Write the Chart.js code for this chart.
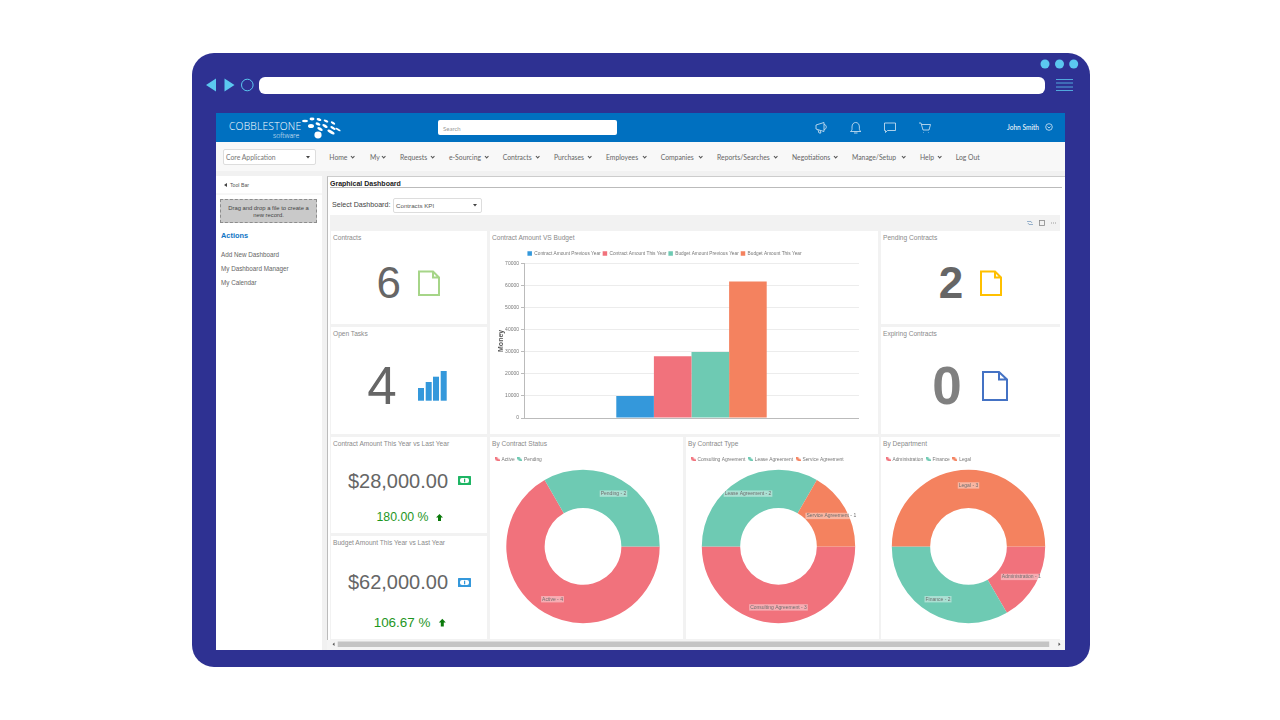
<!DOCTYPE html>
<html><head><meta charset="utf-8">
<script src="https://cdn.jsdelivr.net/npm/chart.js@4"></script>
<style>
html,body{margin:0;padding:0;background:#fff;width:1280px;height:720px;overflow:hidden;font-family:"Liberation Sans",Arial,sans-serif}
#root{position:absolute;left:0;top:0;width:1280px;height:720px;background:#fff;filter:blur(.4px)}
.a{position:absolute;white-space:nowrap}
.m{transform:translateY(-50%)}
.c{transform:translate(-50%,-50%)}
.card{position:absolute;background:#fff}
.title{position:absolute;left:2px;top:2px;font-size:6.6px;line-height:9px;color:#8a8a8a;white-space:nowrap}
.menu{font-family:Lato,"Noto Sans",sans-serif;font-size:6.8px;color:#666}
canvas{position:absolute}
svg{position:absolute;left:0;top:0}
</style></head><body><div id="root">
<div class="a" style="left:192px;top:53px;width:898px;height:614px;border-radius:22px;background:#2e3192"></div>
<div class="a" style="left:259px;top:76.500px;width:786px;height:17px;border-radius:6px;background:#fff"></div>
<div id="app" class="a" style="left:216px;top:113px;width:849px;height:537px;background:#f1f1f1;overflow:hidden">
  <div class="a" style="left:0;top:0;width:849px;height:29px;background:#0070c0"></div>
  <div class="a" style="left:0;top:29px;width:849px;height:29px;background:#f8f8f8"></div>
  <div class="a" style="left:0;top:63px;width:106px;height:474px;background:#fff"></div>
  <div class="a" style="left:111px;top:63px;width:738px;height:474px;background:#fff;border-left:1px solid #bbb;border-top:1px solid #ccc;box-sizing:border-box"></div>
  <div class="a" style="left:114px;top:102px;width:730px;height:425px;background:#f2f2f2"></div>
</div>
<!-- header text -->
<div class="a m" style="left:229px;top:125.700px;font-family:'Open Sans',sans-serif;font-weight:300;font-size:10.300px;line-height:10px;letter-spacing:.2px;color:#fff">COBBLESTONE</div>
<div class="a m" style="left:273px;top:135px;font-family:'Open Sans',sans-serif;font-weight:300;font-size:6.800px;line-height:7px;color:#e6f0fa">software</div>
<div class="a" style="left:438px;top:120px;width:179px;height:15px;background:#fff;border-radius:2px"></div>
<div class="a m menu" style="left:443px;top:127.500px;font-size:6px;color:#999">Search</div>
<div class="a m menu" style="left:1007px;top:127px;font-size:6.600px;color:#fff">John Smith</div>
<!-- nav -->
<div class="a" style="left:223px;top:149px;width:93px;height:16px;background:#fff;border:1px solid #ddd;border-radius:2px;box-sizing:border-box"></div>
<div class="a m menu" style="left:226px;top:157px;color:#777">Core Application</div>
<div id="menuHost"></div>
<!-- sidebar -->
<div class="a m" style="left:230px;top:185px;font-size:5.200px;color:#555">Tool Bar</div>
<div class="a" style="left:220px;top:199px;width:97px;height:24px;background:#c9c9c9;border:1px dashed #8c8c8c;box-sizing:border-box"></div>
<div class="a c" style="left:268.500px;top:207.500px;font-size:5.850px;color:#444">Drag and drop a file to create a</div>
<div class="a c" style="left:268.500px;top:214.500px;font-size:5.850px;color:#444">new record.</div>
<div class="a m" style="left:221px;top:235px;font-size:7.400px;font-weight:bold;color:#0f75c4">Actions</div>
<div class="a m" style="left:221px;top:254px;font-size:6.300px;color:#666">Add New Dashboard</div>
<div class="a m" style="left:221px;top:267.500px;font-size:6.300px;color:#666">My Dashboard Manager</div>
<div class="a m" style="left:221px;top:281.500px;font-size:6.300px;color:#666">My Calendar</div>
<!-- panel -->
<div class="a m" style="left:330px;top:182.500px;font-size:7px;font-weight:bold;color:#222">Graphical Dashboard</div>
<div class="a" style="left:330px;top:187px;width:732px;height:1px;background:#bbb"></div>
<div class="a m" style="left:332px;top:204.500px;font-size:7.100px;color:#444">Select Dashboard:</div>
<div class="a" style="left:393px;top:197.500px;width:89px;height:15px;background:#fff;border:1px solid #ddd;border-radius:2px;box-sizing:border-box"></div>
<div class="a m" style="left:396px;top:205px;font-size:6.200px;color:#555">Contracts KPI</div>
<!-- cards -->
<div class="card" style="left:331px;top:231px;width:156px;height:93px"><div class="title">Contracts</div></div>
<div class="card" style="left:331px;top:327px;width:156px;height:107px"><div class="title">Open Tasks</div></div>
<div class="card" style="left:331px;top:437px;width:156px;height:96px"><div class="title">Contract Amount This Year vs Last Year</div></div>
<div class="card" style="left:331px;top:536px;width:156px;height:103px"><div class="title">Budget Amount This Year vs Last Year</div></div>
<div class="card" style="left:490px;top:231px;width:388px;height:203px"><div class="title">Contract Amount VS Budget</div></div>
<div class="card" style="left:881px;top:231px;width:179px;height:93px"><div class="title">Pending Contracts</div></div>
<div class="card" style="left:881px;top:327px;width:179px;height:107px"><div class="title">Expiring Contracts</div></div>
<div class="card" style="left:490px;top:437px;width:193px;height:202px"><div class="title">By Contract Status</div></div>
<div class="card" style="left:686px;top:437px;width:193px;height:202px"><div class="title">By Contract Type</div></div>
<div class="card" style="left:881px;top:437px;width:179px;height:202px"><div class="title">By Department</div></div>
<!-- KPI values -->
<div class="a c" style="left:388.700px;top:283px;font-size:44px;line-height:44px;color:#666">6</div>
<div class="a c" style="left:382px;top:384.500px;font-size:53px;line-height:53px;color:#666">4</div>
<div class="a c" style="left:951px;top:283px;font-size:44px;line-height:44px;font-weight:bold;color:#666">2</div>
<div class="a c" style="left:947px;top:384.500px;font-size:53px;line-height:53px;font-weight:bold;color:#808080">0</div>
<div class="a c" style="left:398px;top:481px;font-size:20px;color:#666">$28,000.00</div>
<div class="a c" style="left:398px;top:582px;font-size:20px;color:#666">$62,000.00</div>
<div class="a c" style="left:402.500px;top:517px;font-size:12.300px;color:#1e961e">180.00 %</div>
<div class="a c" style="left:402px;top:622px;font-size:13.400px;color:#1e961e">106.67 %</div>
<!-- canvases -->
<canvas id="barChart" width="389" height="177" style="left:470px;top:249px;width:389px;height:177px"></canvas>
<canvas id="statusChart" width="182" height="175" style="left:492px;top:454px;width:182px;height:175px"></canvas>
<canvas id="typeChart" width="181" height="175" style="left:688px;top:454px;width:181px;height:175px"></canvas>
<canvas id="deptChart" width="171" height="175" style="left:883px;top:454px;width:171px;height:175px"></canvas>
<!-- vector chrome and icons -->
<svg width="1280" height="720" fill="none">
  <g fill="#5bc8f0"><path d="M206 85l10-6.500v13zM234.500 85l-10-6.500v13z"/><circle cx="1045" cy="64" r="4.500"/><circle cx="1059.500" cy="64" r="4.500"/><circle cx="1073.700" cy="64" r="4.500"/></g>
  <circle cx="247.300" cy="85" r="5.800" stroke="#5bc8f0" stroke-width="1"/>
  <path d="M1056 79.500h17M1056 83h17M1056 87h17M1056 90.500h17" stroke="#5bc8f0" stroke-width=".8"/>
  <g fill="#fff">
    <ellipse cx="305" cy="121" rx="3" ry="1.200"/><ellipse cx="312" cy="119" rx="2.500" ry="1.400"/><ellipse cx="319" cy="119.500" rx="2.500" ry="1.300" transform="rotate(20 319 119.500)"/><ellipse cx="326" cy="121" rx="2.500" ry="1.200" transform="rotate(25 326 121)"/><ellipse cx="333" cy="123" rx="2.500" ry="1.100" transform="rotate(30 333 123)"/>
    <ellipse cx="311" cy="126" rx="3" ry="2"/><ellipse cx="318" cy="124" rx="2.600" ry="1.500" transform="rotate(25 318 124)"/><ellipse cx="325" cy="126" rx="3" ry="1.300" transform="rotate(30 325 126)"/><ellipse cx="333" cy="128" rx="3" ry="1.200" transform="rotate(30 333 128)"/><ellipse cx="338" cy="129.500" rx="3" ry="1" transform="rotate(30 338 129.500)"/>
    <ellipse cx="320" cy="129" rx="3" ry="1.500" transform="rotate(30 320 129)"/><ellipse cx="331" cy="132" rx="4" ry="1.500" transform="rotate(30 331 132)"/><ellipse cx="318" cy="135" rx="3.600" ry="3.400"/>
  </g>
  <g stroke="#d8e8f5" stroke-width=".8">
    <path d="M816 125l8-2.500v9l-8-2.500zM824 124.500c3 0 3 5 0 5M818 130l1 3h2l-1-2.500"/>
    <path d="M850.500 131.500c2-1 1.500-3 1.500-4.500 0-3 1.700-4.500 3.700-4.500s3.700 1.500 3.700 4.500c0 1.500-.5 3.500 1.500 4.500zM854 133h3.500"/>
    <path d="M884.500 123h11v7.500h-8l-2 2v-2h-1z"/>
    <path d="M919 123h2l2 7h6l1.500-5.500h-9M923.500 132.500v.5M928.500 132.500v.5"/>
    <circle cx="1049" cy="127" r="3.300"/><path d="M1047.500 126.500l1.500 1.500 1.500-1.500"/>
  </g>
  <g fill="#444"><path d="M306 156h4l-2 2.500zM473 204h4l-2 2.500z"/><path d="M224 185l3-2v4z"/></g>
  <path d="M216 194h106" stroke="#eee"/>
  <g stroke="#7f9fc0" stroke-width=".8"><path d="M1027 221.500h4l1 1.500M1033 224.500h-4l-1-1.500"/></g>
  <rect x="1039.500" y="220.500" width="5" height="5" stroke="#888" stroke-width=".8"/>
  <path d="M1051 223h1M1053 223h1M1055 223h1" stroke="#888" stroke-width=".8"/>
  <path d="M419 271.500h14l6 6v17.500h-20zM433 271.500v6h6" stroke="#a6d588" stroke-width="2"/>
  <path d="M981 271.500h14l6 6v17.500h-20zM995 271.500v6h6" stroke="#ffc000" stroke-width="2"/>
  <path d="M983 372h16l8 7.500v20.500h-24zM999 372v7.500h8" stroke="#4472c4" stroke-width="2"/>
  <g fill="#3498db"><rect x="418" y="388" width="6" height="12.700"/><rect x="425.700" y="382" width="6" height="18.700"/><rect x="433" y="376.700" width="6" height="24"/><rect x="440.700" y="371" width="6" height="29.700"/></g>
  <rect x="458" y="476" width="13" height="9" rx=".5" fill="#1eb564"/><rect x="460" y="478" width="9" height="5" rx="2" fill="#fff"/><rect x="464" y="478.700" width="1.200" height="3.600" fill="#1eb564"/>
  <rect x="458" y="578" width="13" height="9" rx=".5" fill="#3498db"/><rect x="460" y="580" width="9" height="5" rx="2" fill="#fff"/><rect x="464" y="580.700" width="1.200" height="3.600" fill="#3498db"/>
  <path d="M439.500 514l3.500 3.500h-2v3.500h-3v-3.500h-2z" fill="#0b7a0b"/>
  <path d="M442.300 618.700l3.500 3.800h-2v4h-3v-4h-2z" fill="#0b7a0b"/>
  <rect x="327" y="640" width="738" height="10" fill="#f4f4f4"/>
  <rect x="337.700" y="641.500" width="711.500" height="5.500" fill="#c4c4c4"/>
  <path d="M334.500 642.500l-2 1.700 2 1.700zM1058.500 642.500l2 1.700-2 1.700z" fill="#555"/>
</svg>
</div>
<script>
// ---- bar chart data
const barCategories = [''];
const barSeriesNames = ['Contract Amount Previous Year','Contract Amount This Year','Budget Amount Previous Year','Budget Amount This Year'];
const contractPrev = [10000];
const contractThis = [28000];
const budgetPrev = [30000];
const budgetThis = [62000];
const barAxisTitle = 'Money';
// ---- doughnut data
const statusLabels = ['Active','Pending'];
const statusValues = [4,2];
const typeLabels = ['Consulting Agreement','Lease Agreement','Service Agreement'];
const typeValues = [3,2,1];
const deptLabels = ['Administration','Finance','Legal'];
const deptValues = [1,2,3];
// ---- colours
const BLUE='#3498db', RED='#f1727c', GREEN='#6ecab3', ORANGE='#f4825f';
const menuItems = [['Home',329.3,353],['My',370,384],['Requests',400,432.7],['e-Sourcing',449,486.7],['Contracts',502.7,538],['Purchases',554,590],['Employees',606,645],['Companies',660.7,701],['Reports/Searches',717,776],['Negotiations',792,836],['Manage/Setup',852,904],['Help',920,939.7],['Log Out',955.7,null]];

const host=document.getElementById('menuHost');
menuItems.forEach(([t,x,c])=>{
  const d=document.createElement('div');d.className='a m menu';d.style.left=x+'px';d.style.top='157px';d.textContent=t;host.appendChild(d);
  if(c){const s=document.createElement('div');s.className='a';s.style.cssText=`left:${c-1.7}px;top:154.5px;width:2.4px;height:2.4px;border-right:1px solid #555;border-bottom:1px solid #555;transform:rotate(45deg)`;host.appendChild(s);}
});

Chart.defaults.font.family='"Liberation Sans",Arial,sans-serif';
Chart.defaults.animation=false;

const tightLegend={id:'tightLegend',beforeLayout(ch){
  const l=ch.legend;if(l._tight)return;l._tight=true;
  const f=l.fit;l.fit=function(){f.call(this);this.height-=2;};
}};
new Chart(document.getElementById('barChart'),{
  type:'bar',
  data:{labels:barCategories,datasets:[
    {label:barSeriesNames[0],data:contractPrev,backgroundColor:BLUE},
    {label:barSeriesNames[1],data:contractThis,backgroundColor:RED},
    {label:barSeriesNames[2],data:budgetPrev,backgroundColor:GREEN},
    {label:barSeriesNames[3],data:budgetThis,backgroundColor:ORANGE}]},
  plugins:[tightLegend],
  options:{responsive:false,maintainAspectRatio:false,
    layout:{padding:0},
    datasets:{bar:{categoryPercentage:.449,barPercentage:1}},
    plugins:{tooltip:{enabled:false},legend:{position:'top',labels:{boxWidth:4.5,boxHeight:4.5,padding:2,color:'#777',font:{size:4.75}}}},
    scales:{
      x:{grid:{display:false},border:{color:'#bbb'},ticks:{display:false}},
      y:{min:0,max:70000,afterFit(s){s.width=54;s.paddingTop=0;s.paddingBottom=0;},
        ticks:{stepSize:10000,color:'#777',font:{size:5},padding:2,callback:v=>String(v)},
        grid:{color:'#ececec',tickLength:3,tickColor:'#bbb'},border:{color:'#bbb'},
        title:{display:true,text:barAxisTitle,color:'#555',font:{size:7,weight:'bold'},padding:{top:27,bottom:0}}}}
  }
});

function marker(col){
  const c=document.createElement('canvas');c.width=5;c.height=4;
  const x=c.getContext('2d');x.fillStyle=col;
  x.beginPath();x.moveTo(0,0);x.lineTo(2.2,0);x.lineTo(5,2.2);x.lineTo(5,4);x.lineTo(2.8,4);x.lineTo(0,1.6);x.closePath();x.fill();
  return c;
}
const arcLabels={id:'arcLabels',afterDatasetsDraw(ch){
  const {ctx,data}=ch;const ds=data.datasets[0];
  ch.getDatasetMeta(0).data.forEach((arc,i)=>{
    const p=arc.getProps(['x','y','startAngle','endAngle','outerRadius']);
    const a=(p.startAngle+p.endAngle)/2,r=p.outerRadius*.795;
    const x=p.x+Math.cos(a)*r,y=p.y+Math.sin(a)*r;
    const t=data.labels[i]+' - '+ds.data[i];
    ctx.save();ctx.font='5px "Liberation Sans"';
    const w=ctx.measureText(t).width+2;
    ctx.fillStyle='rgba(255,255,255,.42)';ctx.fillRect(x-w/2,y-3.2,w,6.4);
    ctx.fillStyle='#6e6e6e';ctx.textAlign='center';ctx.textBaseline='middle';ctx.fillText(t,x,y);
    ctx.restore();
  });
}};
function ring(id,labels,values,colors){
  new Chart(document.getElementById(id),{
    type:'doughnut',
    data:{labels:labels,datasets:[{data:values,backgroundColor:colors,borderWidth:0}]},
    plugins:[arcLabels],
    options:{responsive:false,maintainAspectRatio:false,rotation:90,cutout:'50%',radius:76.7,
      layout:{padding:{bottom:8}},
      plugins:{tooltip:{enabled:false},legend:{position:'top',align:'start',labels:{
        usePointStyle:true,boxWidth:4,boxHeight:4,padding:3,color:'#777',font:{size:4.85},
        generateLabels(ch){return Chart.overrides.doughnut.plugins.legend.labels.generateLabels(ch).map(l=>({...l,pointStyle:marker(l.fillStyle)}));}
      }}}}
  });
}
ring('statusChart',statusLabels,statusValues,[RED,GREEN]);
ring('typeChart',typeLabels,typeValues,[RED,GREEN,ORANGE]);
ring('deptChart',deptLabels,deptValues,[RED,GREEN,ORANGE]);
</script>
</body></html>
